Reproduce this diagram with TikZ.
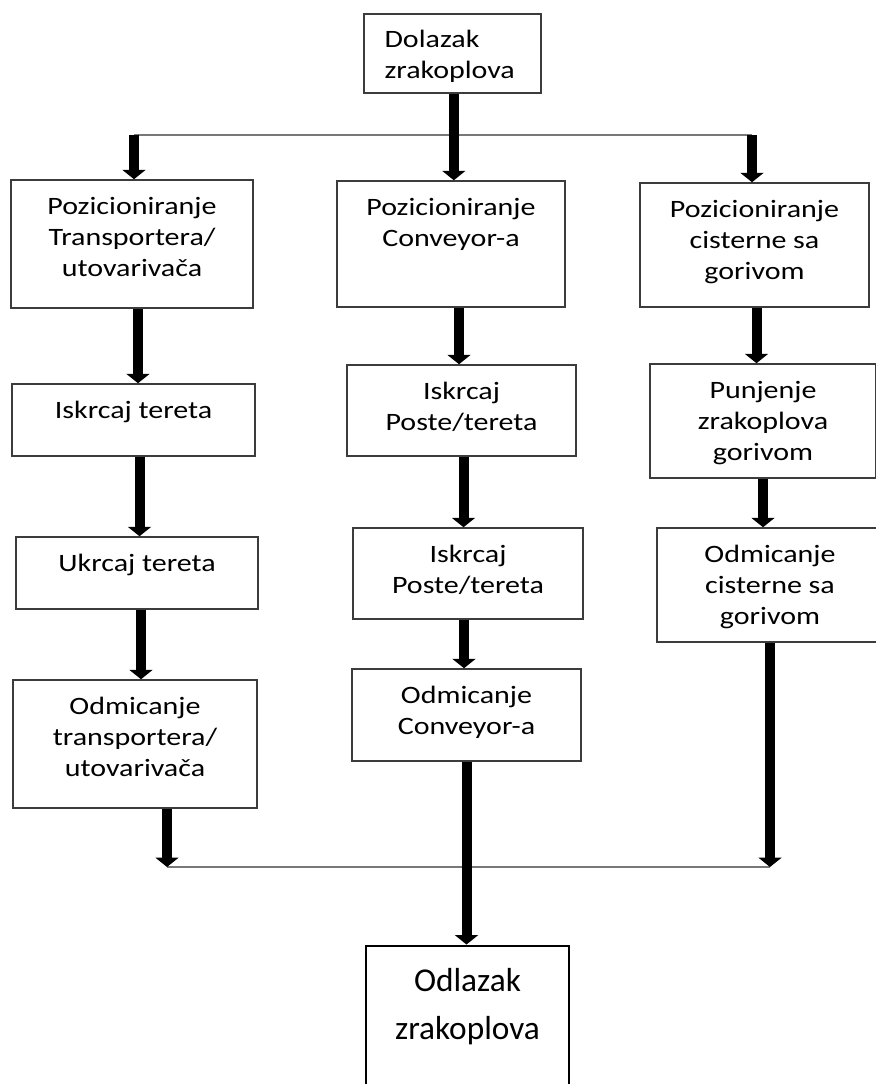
\documentclass[tikz,border=0pt]{standalone}
\usepackage{fontspec}
\setmainfont{Carlito}[FakeStretch=1.2]
\newfontfamily\bigfont{Carlito}
\usetikzlibrary{arrows.meta}
\definecolor{boxgray}{RGB}{60, 60, 60}
\definecolor{busgray}{RGB}{120, 120, 120}
\newcommand{\topstrut}{\rule{0pt}{18pt}}

\begin{document}
\begin{tikzpicture}[x=0.75pt, y=-0.75pt,
    box/.style={draw=boxgray, line width=1.1pt, rectangle, inner sep=0pt},
    txt/.style={anchor=north, align=center, inner sep=0pt, font=\fontsize{18.75}{23.5}\selectfont},
    arr/.style={line width=7.5pt, -{Triangle[width=17pt, length=7pt]}},
    bus/.style={draw=busgray, line width=1.5pt}]
    \useasboundingbox (0,0) rectangle (875,1084);

    % Boxes: name/left/top/right/bottom/text
    \foreach \n/\xa/\ya/\xb/\yb/\txt in {
        L1/11/180/253/308/{Pozicioniranje\\Transportera/\\utovarivača},
        L2/12/384/255/456/{Iskrcaj tereta},
        L3/16/537/258/609/{Ukrcaj tereta},
        L4/13/680/257/808/{Odmicanje\\transportera/\\utovarivača},
        M1/337/181/565/307/{Pozicioniranje\\Conveyor-a},
        M2/347/365/576/456/{Iskrcaj\\Poste/tereta},
        M3/353/528/583/619/{Iskrcaj\\Poste/tereta},
        M4/352/669/581/761/{Odmicanje\\Conveyor-a},
        R1/640/183/869/307/{Pozicioniranje\\cisterne sa\\gorivom},
        R2/650/364/876/478/{Punjenje\\zrakoplova\\gorivom},
        R3/657/528/883/642/{Odmicanje\\cisterne sa\\gorivom}} {
        \node[box, minimum width={(\xb-\xa)*0.75pt}, minimum height={(\yb-\ya)*0.75pt}]
            (\n) at ({(\xa+\xb)/2}, {(\ya+\yb)/2}) {};
        \node[txt] (\n-t) at ([yshift=-8pt]\n.north) {\topstrut\txt};
    }

    % Arrival
    \node[box, minimum width=132.75pt, minimum height=59.25pt] (dol) at (452.5, 53.5) {};
    \node[txt, anchor=north west, align=left, font=\fontsize{18.75}{23.25}\selectfont]
        (dol-t) at ([xshift=15.75pt, yshift=-7.5pt]dol.north west) {\topstrut Dolazak\\zrakoplova};

    % Departure
    \node[draw, line width=2.2pt, rectangle, inner sep=0pt, minimum width=152.25pt, minimum height=115.5pt]
        (odl) at (467.5, 1023) {};
    \node[txt, font=\bigfont\fontsize{25}{36}\selectfont] (odl-t) at ([yshift=-17pt]odl.north)
        {\topstrut Odlazak\\zrakoplova};

    % Top split
    \coordinate (tl) at (134, 135);
    \coordinate (tr) at (752, 135);
    \draw[bus] (tl) -- (tr);
    \draw[arr] ([xshift=1pt]dol.south) -- ([xshift=1pt]dol.south |- M1.north);
    \draw[arr] (tl) -- (tl |- L1.north);
    \draw[arr] (tr) -- (tr |- R1.north);

    % Columns
    \foreach \a/\b/\dx in {L1/L2/6, L2/L3/6, L3/L4/4, M1/M2/8, M2/M3/2, M3/M4/-4, R1/R2/2, R2/R3/0} {
        \draw[arr] ([xshift=\dx*0.75pt]\a.south) -- ([xshift=\dx*0.75pt]\a.south |- \b.north);
    }

    % Bottom join
    \coordinate (bl) at (167, 867);
    \coordinate (br) at (770, 867);
    \draw[bus] (bl) -- (br);
    \draw[arr] (L4.south -| bl) -- (bl);
    \draw[arr] (R3.south -| br) -- (br);
    \draw[arr] (M4.south) -- (M4.south |- odl.north);
\end{tikzpicture}
\end{document}
